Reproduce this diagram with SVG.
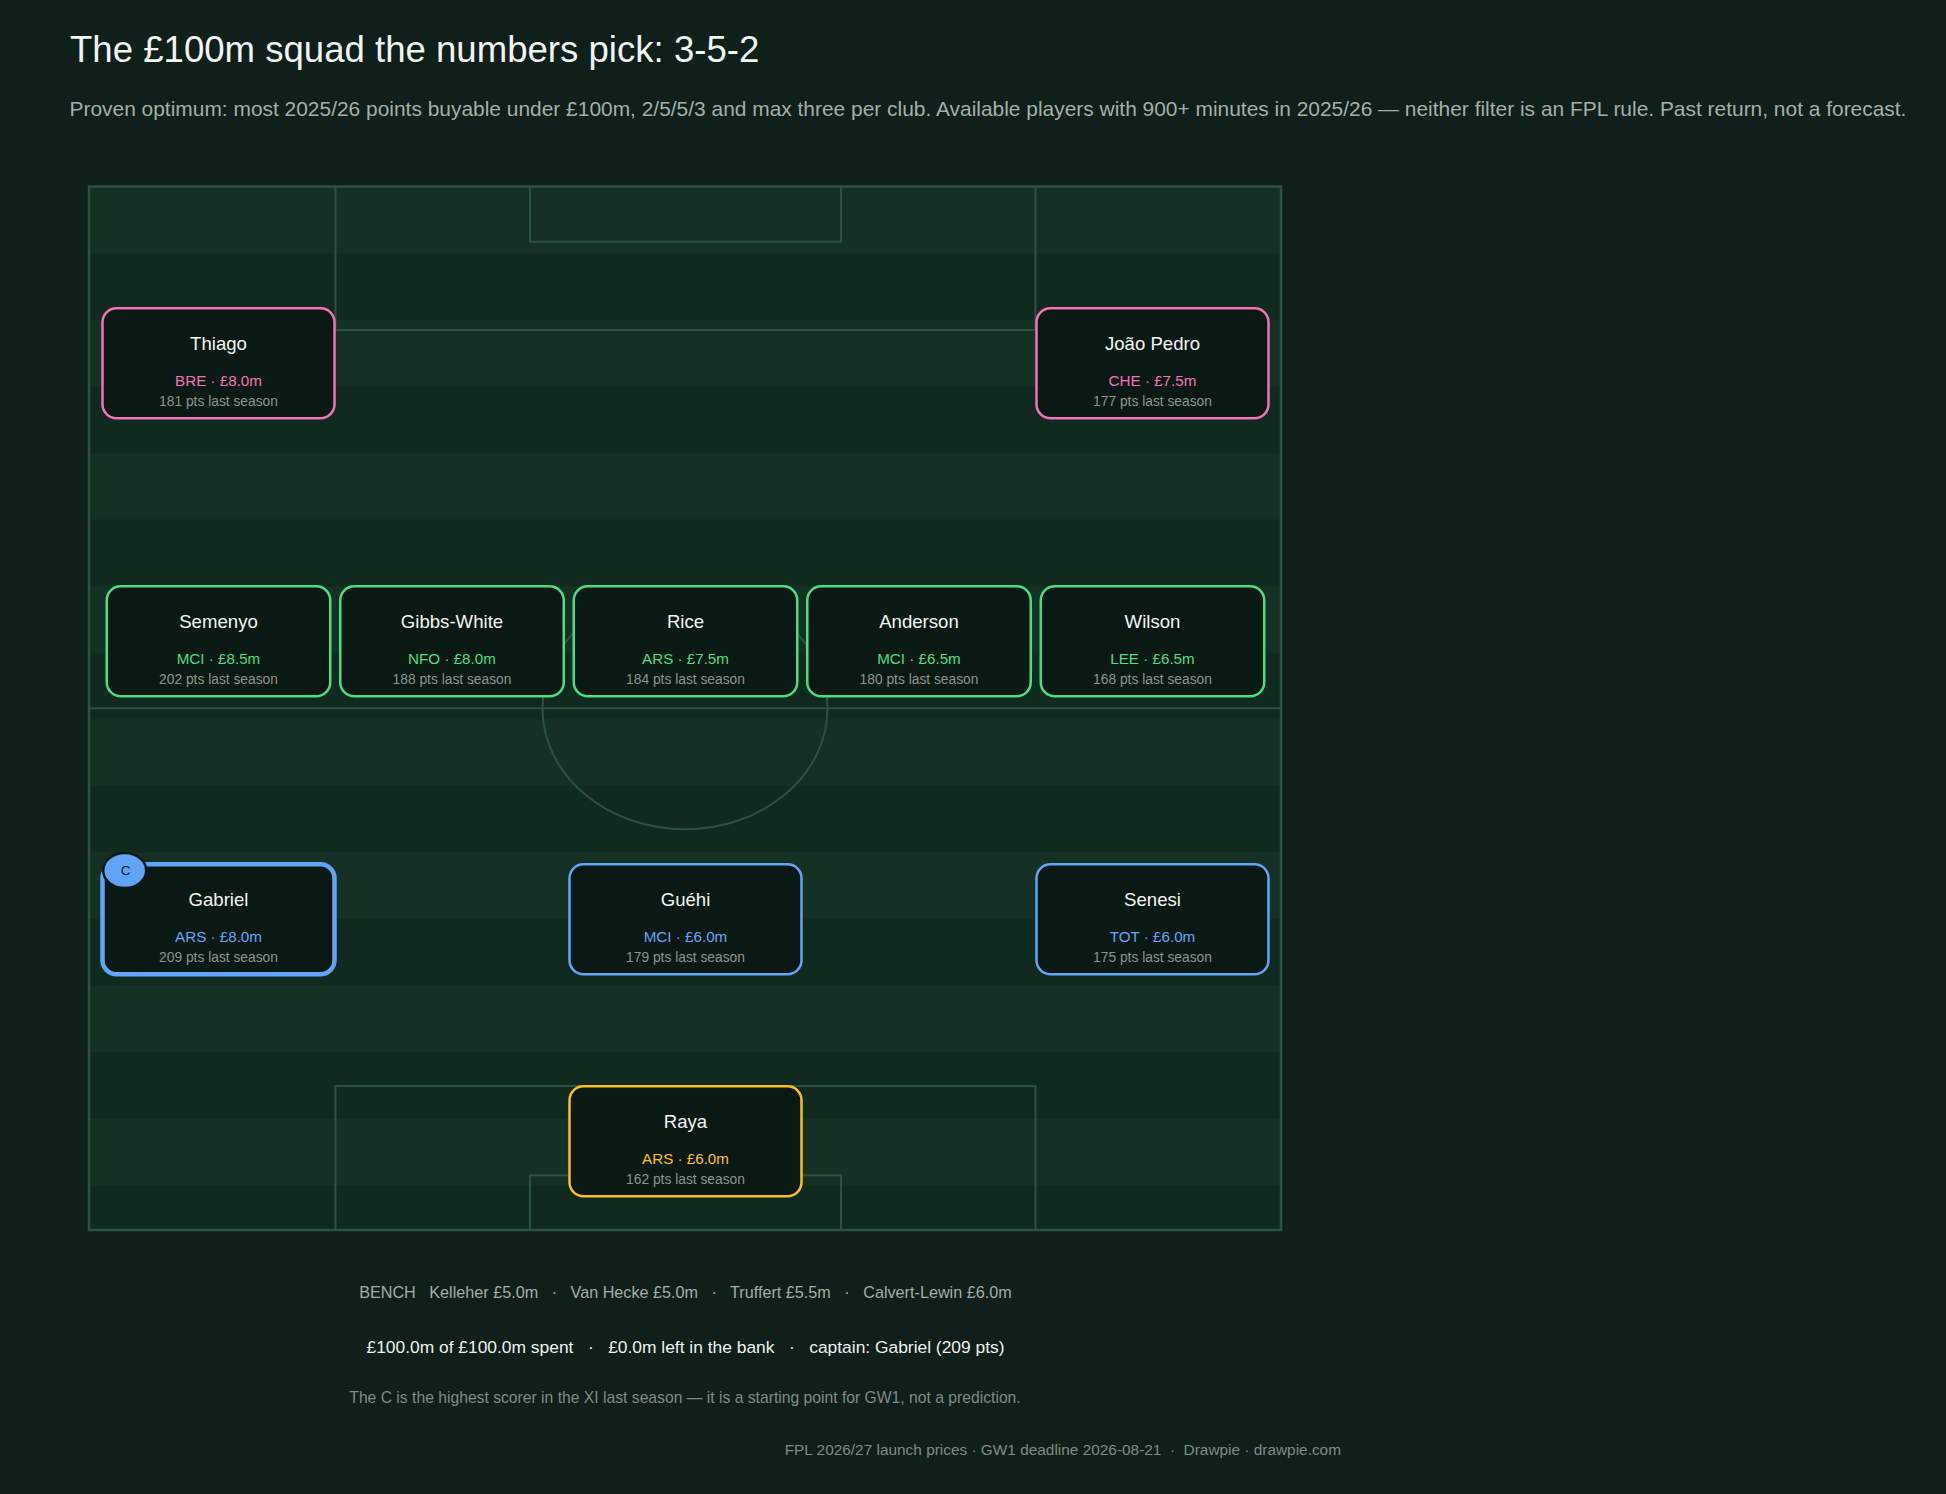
<svg xmlns="http://www.w3.org/2000/svg" width="1946" height="1494" viewBox="0 0 1946 1494">
<defs>
<style>
text{font-family:"Liberation Sans",Arial,sans-serif}
.ln{fill:none;stroke:#2c5242;stroke-width:2}
.st{fill:#143124}
.card{fill:#0b1914;stroke-width:2.5}
.fwd{stroke:#f472b6}.mid{stroke:#4ade80}.def{stroke:#60a5fa}.gk{stroke:#fbbf24}
.nm{fill:#f3f5f3;font-size:18.6px;text-anchor:middle}
.tm{font-size:15.2px;text-anchor:middle}
.pt{fill:#8a958f;font-size:13.8px;text-anchor:middle}
.cf{fill:#f472b6}.cm{fill:#4ade80}.cd{fill:#60a5fa}.cg{fill:#fbbf24}
</style>
<clipPath id="pc"><rect x="89" y="186.5" width="1192" height="1043.5"/></clipPath>
</defs>
<rect width="1946" height="1494" fill="#0f1f19"/>
<text x="70" y="62" font-size="36.6" fill="#f2f4f3">The £100m squad the numbers pick: 3-5-2</text>
<text x="69.5" y="116" font-size="20.93" fill="#a3b0a9">Proven optimum: most 2025/26 points buyable under £100m, 2/5/5/3 and max three per club. Available players with 900+ minutes in 2025/26 — neither filter is an FPL rule. Past return, not a forecast.</text>

<g id="pitch">
<rect x="89" y="186.5" width="1192" height="1043.5" fill="#112a1f"/>
<g clip-path="url(#pc)">
<rect class="st" x="89" y="186.5" width="1192" height="66.6"/>
<rect class="st" x="89" y="319.7" width="1192" height="66.6"/>
<rect class="st" x="89" y="452.9" width="1192" height="66.6"/>
<rect class="st" x="89" y="586.1" width="1192" height="66.6"/>
<rect class="st" x="89" y="719.3" width="1192" height="66.6"/>
<rect class="st" x="89" y="852.5" width="1192" height="66.6"/>
<rect class="st" x="89" y="985.7" width="1192" height="66.6"/>
<rect class="st" x="89" y="1118.9" width="1192" height="66.6"/>
</g>
<rect class="ln" x="89" y="186.5" width="1192" height="1043.5" style="stroke-width:2.5"/>
<line class="ln" x1="89" y1="708.3" x2="1281" y2="708.3"/>
<ellipse class="ln" cx="685" cy="708.3" rx="142.5" ry="121"/>
<path class="ln" d="M335.5 186.5V330H1035.5V186.5"/>
<path class="ln" d="M530 186.5V241.7H841V186.5"/>
<path class="ln" d="M335.5 1230V1086H1035.5V1230"/>
<path class="ln" d="M530 1230V1175.3H841V1230"/>
</g>

<g id="connectors"></g>

<g id="thiago">
<rect class="card fwd" x="102.5" y="308.25" width="232" height="110" rx="14"/>
<text class="nm" x="218.5" y="350">Thiago</text>
<text class="tm cf" x="218.5" y="385.5">BRE · £8.0m</text>
<text class="pt" x="218.5" y="406">181 pts last season</text>
</g>
<g id="joao-pedro">
<rect class="card fwd" x="1036.5" y="308.25" width="232" height="110" rx="14"/>
<text class="nm" x="1152.5" y="350">João Pedro</text>
<text class="tm cf" x="1152.5" y="385.5">CHE · £7.5m</text>
<text class="pt" x="1152.5" y="406">177 pts last season</text>
</g>

<g id="semenyo">
<rect class="card mid" x="106.75" y="586.25" width="223.5" height="110" rx="14"/>
<text class="nm" x="218.5" y="628">Semenyo</text>
<text class="tm cm" x="218.5" y="663.5">MCI · £8.5m</text>
<text class="pt" x="218.5" y="684">202 pts last season</text>
</g>
<g id="gibbs-white">
<rect class="card mid" x="340.25" y="586.25" width="223.5" height="110" rx="14"/>
<text class="nm" x="452" y="628">Gibbs-White</text>
<text class="tm cm" x="452" y="663.5">NFO · £8.0m</text>
<text class="pt" x="452" y="684">188 pts last season</text>
</g>
<g id="rice">
<rect class="card mid" x="573.75" y="586.25" width="223.5" height="110" rx="14"/>
<text class="nm" x="685.5" y="628">Rice</text>
<text class="tm cm" x="685.5" y="663.5">ARS · £7.5m</text>
<text class="pt" x="685.5" y="684">184 pts last season</text>
</g>
<g id="anderson">
<rect class="card mid" x="807.25" y="586.25" width="223.5" height="110" rx="14"/>
<text class="nm" x="919" y="628">Anderson</text>
<text class="tm cm" x="919" y="663.5">MCI · £6.5m</text>
<text class="pt" x="919" y="684">180 pts last season</text>
</g>
<g id="wilson">
<rect class="card mid" x="1040.75" y="586.25" width="223.5" height="110" rx="14"/>
<text class="nm" x="1152.5" y="628">Wilson</text>
<text class="tm cm" x="1152.5" y="663.5">LEE · £6.5m</text>
<text class="pt" x="1152.5" y="684">168 pts last season</text>
</g>

<g id="gabriel">
<rect class="card def" x="102.5" y="864.25" width="232" height="110" rx="14" style="stroke-width:4.5"/>
<text class="nm" x="218.5" y="906">Gabriel</text>
<text class="tm cd" x="218.5" y="941.5">ARS · £8.0m</text>
<text class="pt" x="218.5" y="962">209 pts last season</text>
<ellipse cx="124.7" cy="870.5" rx="21.5" ry="17.6" fill="#60a5fa" stroke="#0c1a14" stroke-width="2.5"/>
<text x="125.5" y="874.5" font-size="13.5" fill="#0c1a14" text-anchor="middle">C</text>
</g>
<g id="guehi">
<rect class="card def" x="569.5" y="864.25" width="232" height="110" rx="14"/>
<text class="nm" x="685.5" y="906">Guéhi</text>
<text class="tm cd" x="685.5" y="941.5">MCI · £6.0m</text>
<text class="pt" x="685.5" y="962">179 pts last season</text>
</g>
<g id="senesi">
<rect class="card def" x="1036.5" y="864.25" width="232" height="110" rx="14"/>
<text class="nm" x="1152.5" y="906">Senesi</text>
<text class="tm cd" x="1152.5" y="941.5">TOT · £6.0m</text>
<text class="pt" x="1152.5" y="962">175 pts last season</text>
</g>

<g id="raya">
<rect class="card gk" x="569.5" y="1086.25" width="232" height="110" rx="14"/>
<text class="nm" x="685.5" y="1128">Raya</text>
<text class="tm cg" x="685.5" y="1163.5">ARS · £6.0m</text>
<text class="pt" x="685.5" y="1184">162 pts last season</text>
</g>

<text x="685.4" y="1298" font-size="16.2" fill="#a3aea8" text-anchor="middle" xml:space="preserve">BENCH   Kelleher £5.0m   ·   Van Hecke £5.0m   ·   Truffert £5.5m   ·   Calvert-Lewin £6.0m</text>
<text x="685.5" y="1353" font-size="17.4" fill="#eef1ef" text-anchor="middle" xml:space="preserve">£100.0m of £100.0m spent   ·   £0.0m left in the bank   ·   captain: Gabriel (209 pts)</text>
<text x="685" y="1402.5" font-size="15.7" fill="#7f8c86" text-anchor="middle">The C is the highest scorer in the XI last season — it is a starting point for GW1, not a prediction.</text>
<text x="1341" y="1454.5" font-size="15.4" fill="#7f8c86" text-anchor="end" xml:space="preserve">FPL 2026/27 launch prices · GW1 deadline 2026-08-21  ·  Drawpie · drawpie.com</text>
</svg>
